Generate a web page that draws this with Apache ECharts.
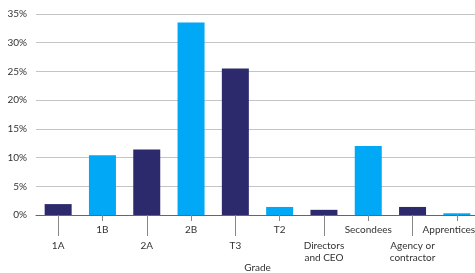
<!DOCTYPE html>
<html>
<head>
<meta charset="utf-8">
<script src="https://cdn.jsdelivr.net/npm/echarts@6/dist/echarts.min.js"></script>
<style>
  html, body { margin: 0; padding: 0; background: #fff; }
  #chart { width: 475px; height: 273px; }
</style>
</head>
<body>
<div id="chart"></div>
<script>
const grades = ["1A", "1B", "2A", "2B", "T3", "T2", "Directors\nand CEO", "Secondees", "Agency or\ncontractor", "Apprentices"];
const shares = [1.9, 10.4, 11.4, 33.5, 25.5, 1.4, 0.9, 12.0, 1.4, 0.3];
const barColors = ["#2c2a6d", "#00a8f5"];
const yTicks = [0, 5, 10, 15, 20, 25, 30, 35];

const font = "Lato, 'Open Sans', sans-serif";
const chart = echarts.init(document.getElementById("chart"));

chart.setOption({
  animation: false,
  grid: { left: 36, right: -4, top: 14, bottom: 58, outerBoundsMode: "none" },
  xAxis: [
    {
      // short ticks, labels for the upper row (1B, 2B, T2...)
      type: "category",
      data: grades,
      axisLine: { lineStyle: { color: "#666", width: 1 } },
      axisTick: { show: true, alignWithLabel: true, length: 6, interval: 0, lineStyle: { color: "#888", width: 1 } },
      axisLabel: {
        interval: 0, margin: 9, color: "#333", fontSize: 10, fontFamily: font, lineHeight: 12,
        formatter: (v, i) => {
          if (i % 2 === 0) return "";
          // last label is pulled left so it stays inside the canvas
          return i === grades.length - 1 ? "{last|" + v + "}" : v;
        },
        rich: { last: { padding: [0, 16, 0, 0], color: "#333", fontSize: 10, fontFamily: font } }
      },
      splitLine: { show: false },
      name: "Grade",
      nameLocation: "middle",
      nameGap: 48,
      nameTextStyle: { color: "#333", fontSize: 10, fontFamily: font }
    },
    {
      // long ticks, labels for the lower row (1A, 2A, T3...)
      type: "category",
      data: grades,
      position: "bottom",
      axisLine: { show: false },
      axisTick: { show: true, alignWithLabel: true, length: 21, interval: 1, lineStyle: { color: "#888", width: 1 } },
      axisLabel: { interval: 1, margin: 25, color: "#333", fontSize: 10, fontFamily: font, lineHeight: 12 },
      splitLine: { show: false }
    }
  ],
  yAxis: {
    type: "value",
    min: 0,
    max: 35,
    interval: 5,
    axisLine: { show: false },
    axisTick: { show: false },
    axisLabel: { formatter: (v) => yTicks.includes(v) ? v + "%" : "", margin: 9, color: "#333", fontSize: 10, fontFamily: font },
    splitLine: { lineStyle: { color: "#c4c4c4", width: 1 } }
  },
  series: [
    {
      type: "bar",
      barWidth: 27,
      data: shares.map((v, i) => ({ value: v, itemStyle: { color: barColors[i % 2 === 0 ? 0 : 1] } }))
    }
  ]
});
</script>
</body>
</html>
